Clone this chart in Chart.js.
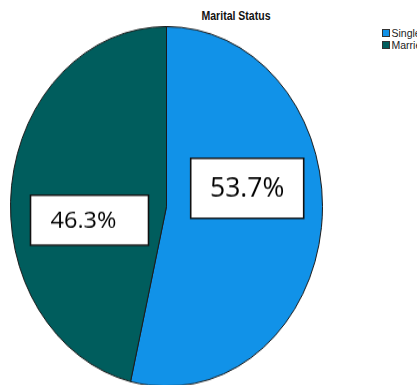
<!DOCTYPE html>
<html>
<head>
<meta charset="utf-8">
<script src="https://cdn.jsdelivr.net/npm/chart.js@4"></script>
<style>
  html, body { margin: 0; padding: 0; background: #fff; overflow: hidden; }
  #wrap { position: relative; width: 417px; height: 385px; overflow: hidden; }
  #pie { position: absolute; left: 10px; top: 26px; transform-origin: 0 0; }
  /* narrow title face is faked by squeezing Liberation Sans horizontally */
  #titulo {
    position: absolute; left: 136px; width: 200px; top: 8px; text-align: center;
    font: bold 13px "Liberation Sans", Arial, sans-serif; color: #111;
    transform: scaleX(0.81); transform-origin: 50% 0;
  }
  #leyenda {
    position: absolute; left: 382px; top: 26.7px;
    font: 10.5px "Liberation Sans", Arial, sans-serif; color: #222;
    white-space: nowrap;
  }
  .item { height: 12px; line-height: 12px; display: flex; align-items: center; }
  .cuadro {
    box-sizing: border-box; width: 8px; height: 8px; border: 1px solid #333;
    margin-right: 1.5px; flex: none;
  }
</style>
</head>
<body>
<div id="wrap">
  <canvas id="pie" width="313" height="313"></canvas>
  <div id="titulo"></div>
  <div id="leyenda"></div>
</div>
<script>
const titulo = "Marital Status";
const categorias = ["Single", "Married"];
const porcentajes = [53.7, 46.3];
const colores = ["#1192e8", "#005d5d"];

// the pie is drawn round and stretched vertically into an ellipse
const ESTIRAR = 1.1534;
const canvas = document.getElementById("pie");
canvas.style.transform = `scaleY(${ESTIRAR})`;

// boxed percentage labels, placed relative to the pie centre (page pixels)
const cajas = [
  { dx: 80.7, dy: -18.2, w: 113, h: 60, size: 26.5, tx: 0 },
  { dx: -77, dy: 13.7, w: 118, h: 50, size: 23.5, tx: -6 },
];

const etiquetasCaja = {
  id: "etiquetasCaja",
  afterDatasetsDraw(chart) {
    const ctx = chart.ctx;
    const meta = chart.getDatasetMeta(0);
    meta.data.forEach((arc, i) => {
      const c = cajas[i];
      ctx.save();
      ctx.translate(arc.x + c.dx, arc.y + c.dy / ESTIRAR);
      ctx.scale(1, 1 / ESTIRAR);
      ctx.fillStyle = "#fff";
      ctx.fillRect(-c.w / 2, -c.h / 2, c.w, c.h);
      ctx.lineWidth = 1.6;
      ctx.strokeStyle = "#111";
      ctx.strokeRect(-c.w / 2, -c.h / 2, c.w, c.h);
      ctx.fillStyle = "#000";
      ctx.font = `${c.size}px "Open Sans", sans-serif`;
      ctx.textAlign = "center";
      ctx.textBaseline = "middle";
      const valor = chart.data.datasets[0].data[i];
      ctx.fillText(valor.toFixed(1) + "%", c.tx, 1);
      ctx.restore();
    });
  },
};

const chart = new Chart(canvas, {
  type: "pie",
  data: {
    labels: categorias,
    datasets: [{
      data: porcentajes,
      backgroundColor: colores,
      borderColor: "#1a1a1a",
      borderWidth: 1,
    }],
  },
  options: {
    responsive: false,
    animation: false,
    devicePixelRatio: 1,
    layout: { padding: 0 },
    plugins: {
      legend: { display: false },
      title: { display: false },
      tooltip: { enabled: false },
    },
  },
  plugins: [etiquetasCaja],
});

document.getElementById("titulo").textContent = titulo;

// legend built from the chart's own labels and colours
const leyenda = document.getElementById("leyenda");
chart.data.labels.forEach((nombre, i) => {
  const item = document.createElement("div");
  item.className = "item";
  const cuadro = document.createElement("span");
  cuadro.className = "cuadro";
  cuadro.style.background = chart.data.datasets[0].backgroundColor[i];
  item.appendChild(cuadro);
  const texto = document.createElement("span");
  texto.textContent = nombre;
  item.appendChild(texto);
  leyenda.appendChild(item);
});
</script>
</body>
</html>
